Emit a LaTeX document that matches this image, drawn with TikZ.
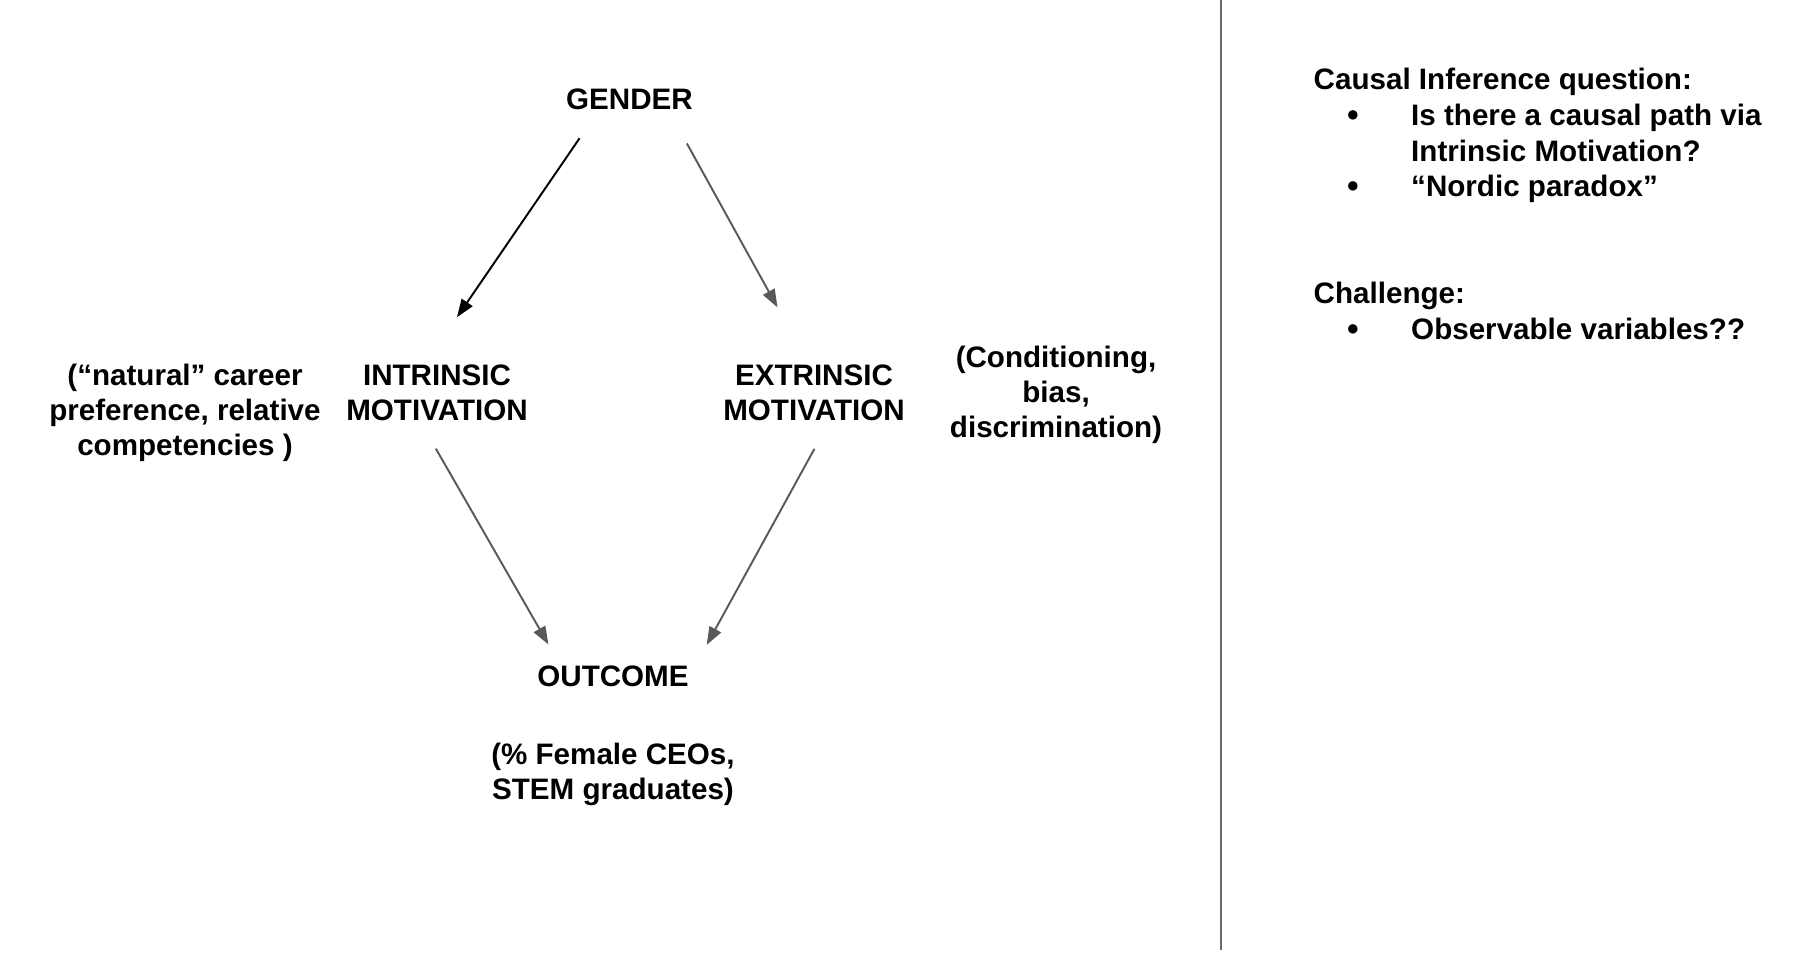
\documentclass[tikz,border=0pt]{standalone}
\usepackage{fontspec}
\setmainfont{Liberation Sans}
\usetikzlibrary{arrows.meta}
\definecolor{arrgray}{HTML}{595959}
\definecolor{linegray}{HTML}{6B6B6B}

\begin{document}
\begin{tikzpicture}[
		lbl/.style={font=\fontsize{8.42pt}{10pt}\selectfont\bfseries,inner sep=0pt,align=center},
		txt/.style={font=\fontsize{8.42pt}{10pt}\selectfont\bfseries,inner sep=0pt,anchor=base west},
		dot/.style={font=\fontsize{6.2pt}{7pt}\selectfont,inner sep=0pt,anchor=base},
		arr/.style={-{Triangle[length=0.18cm,width=0.13cm]},line width=0.55pt},
		garr/.style={arr,arrgray}]
	\useasboundingbox (0,0) rectangle (17.96,-9.64);
	%% variables
	\node[lbl] (gender) at (6.295,-0.99) {GENDER};
	\node[lbl] (intr) at (4.37,-3.93) {INTRINSIC\\MOTIVATION};
	\node[lbl] (extr) at (8.14,-3.93) {EXTRINSIC\\MOTIVATION};
	\node[lbl] (outc) at (6.13,-6.765) {OUTCOME};
	%% notes
	\node[lbl] (intrnote) at (1.85,-4.13) {(“natural” career\\preference, relative\\competencies )};
	\node[lbl] (extrnote) at (10.56,-3.95) {(Conditioning,\\bias,\\discrimination)};
	\node[lbl] (outcnote) at (6.13,-7.74) {(\% Female CEOs,\\STEM graduates)};
	%% causal paths
	\draw[arr,shorten <=0.34cm,shorten >=0.57cm] (gender.200) -- (intr.113);
	\draw[garr,shorten <=0.38cm,shorten >=0.65cm] (gender.344) -- (extr.100);
	\draw[garr,shorten <=0.31cm,shorten >=0.24cm] (intr.240) -- (outc.168);
	\draw[garr,shorten <=0.31cm,shorten >=0.36cm] (extr.298) -- (outc.east);
	%% divider
	\draw[linegray,line width=0.6pt] (12.21,0) -- (12.21,-9.50);
	%% questions
	\node[txt] (causal) at (13.13,-0.895) {Causal Inference question:};
	\node[dot] (b1) at (13.53,-1.215) {●};
	\node[txt,align=left,anchor=north west] (q1) at (14.105,-1.038) {Is there a causal path via\\Intrinsic Motivation?};
	\node[dot] (b2) at (13.53,-1.925) {●};
	\node[txt] (q2) at (14.105,-1.96) {“Nordic paradox”};
	\node[txt] (chal) at (13.13,-3.03) {Challenge:};
	\node[dot] (b3) at (13.53,-3.355) {●};
	\node[txt] (q3) at (14.105,-3.39) {Observable variables??};
\end{tikzpicture}
\end{document}
